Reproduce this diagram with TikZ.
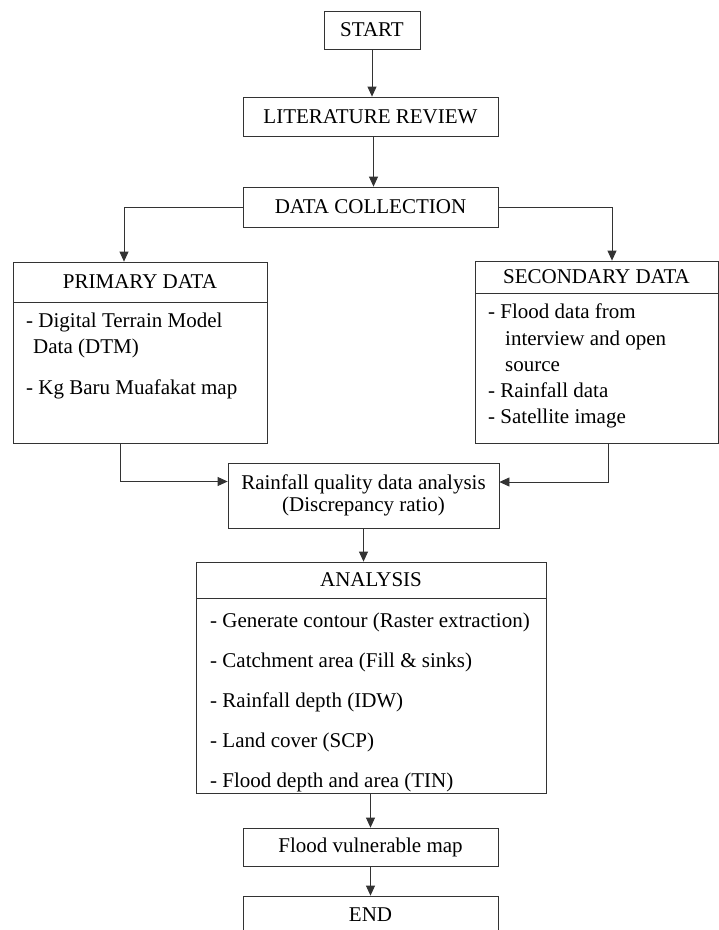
\documentclass[tikz,border=0pt]{standalone}
\usepackage{fontspec}
\setmainfont{Liberation Serif}
\usetikzlibrary{arrows.meta}
\tikzset{
  box/.style={draw=black!80, line width=0.8pt, inner sep=0pt,
    font=\fontsize{21}{26}\selectfont},
  item/.style={anchor=base west, inner sep=0pt,
    font=\fontsize{21}{26}\selectfont},
  arr/.style={draw=black!80, line width=0.8pt,
    -{Triangle[length=10pt,width=9pt]}},
}

\begin{document}
\begin{tikzpicture}[x=1pt, y=-1pt]
    \useasboundingbox (0,0) rectangle (719,930);

    % main column
    \node[box, minimum width=96pt, minimum height=38pt] (start) at (372,30) {START};
    \node[box, minimum width=255pt, minimum height=39pt] (lit) at (370.5,116.5) {LITERATURE REVIEW};
    \node[box, minimum width=255pt, minimum height=40pt] (dc) at (370.5,207) {DATA COLLECTION};

    % primary data
    \node[box, minimum width=254pt, minimum height=40pt] (primhead) at (140,282) {PRIMARY DATA};
    \node[box, minimum width=254pt, minimum height=141pt] (primbody) at (140,372.5) {};
    \node[item] (p1) at (26,327) {- Digital Terrain Model};
    \node[item] (p2) at (33,353) {Data (DTM)};
    \node[item] (p3) at (26,394) {- Kg Baru Muafakat map};

    % secondary data
    \node[box, minimum width=243pt, minimum height=32pt] (sechead) at (596.5,277) {SECONDARY DATA};
    \node[box, minimum width=243pt, minimum height=150pt] (secbody) at (596.5,368) {};
    \node[item] (s1) at (488,318) {- Flood data from};
    \node[item] (s2) at (505,345) {interview and open};
    \node[item] (s3) at (505,371) {source};
    \node[item] (s4) at (488,397) {- Rainfall data};
    \node[item] (s5) at (488,423) {- Satellite image};

    \node[box, minimum width=271pt, minimum height=65pt, align=center,
      font=\fontsize{21}{22}\selectfont] (rain) at (363.5,495.5)
      {Rainfall quality data analysis\\(Discrepancy ratio)};

    % analysis
    \node[box, minimum width=350pt, minimum height=36pt] (anahead) at (371,580) {ANALYSIS};
    \node[box, minimum width=350pt, minimum height=195pt] (anabody) at (371,695.5) {};
    \node[item] (a1) at (210,627) {- Generate contour (Raster extraction)};
    \node[item] (a2) at (210,667) {- Catchment area (Fill \& sinks)};
    \node[item] (a3) at (210,707) {- Rainfall depth (IDW)};
    \node[item] (a4) at (210,747) {- Land cover (SCP)};
    \node[item] (a5) at (210,787) {- Flood depth and area (TIN)};

    \node[box, minimum width=255pt, minimum height=38pt] (flood) at (370.5,847) {Flood vulnerable map};
    \node[box, minimum width=255pt, minimum height=38pt] (end) at (370.5,915) {END};

    % connectors
    \draw[arr] (start.south) -- (start.south |- lit.north);
    \draw[arr] ([xshift=3pt]lit.south) -- ([xshift=3pt]dc.north);
    \draw[arr] (dc.west) -| ([xshift=-16pt]primhead.north);
    \draw[arr] (dc.east) -| ([xshift=15.5pt]sechead.north);
    \draw[arr] ([xshift=-20pt]primbody.south) |- ([yshift=14pt]rain.west);
    \draw[arr] ([xshift=11.5pt]secbody.south) |- ([yshift=13.5pt]rain.east);
    \draw[arr] (rain.south) -- (rain.south |- anahead.north);
    \draw[arr] (flood.north |- anabody.south) -- (flood.north);
    \draw[arr] (flood) -- (end);
\end{tikzpicture}
\end{document}
